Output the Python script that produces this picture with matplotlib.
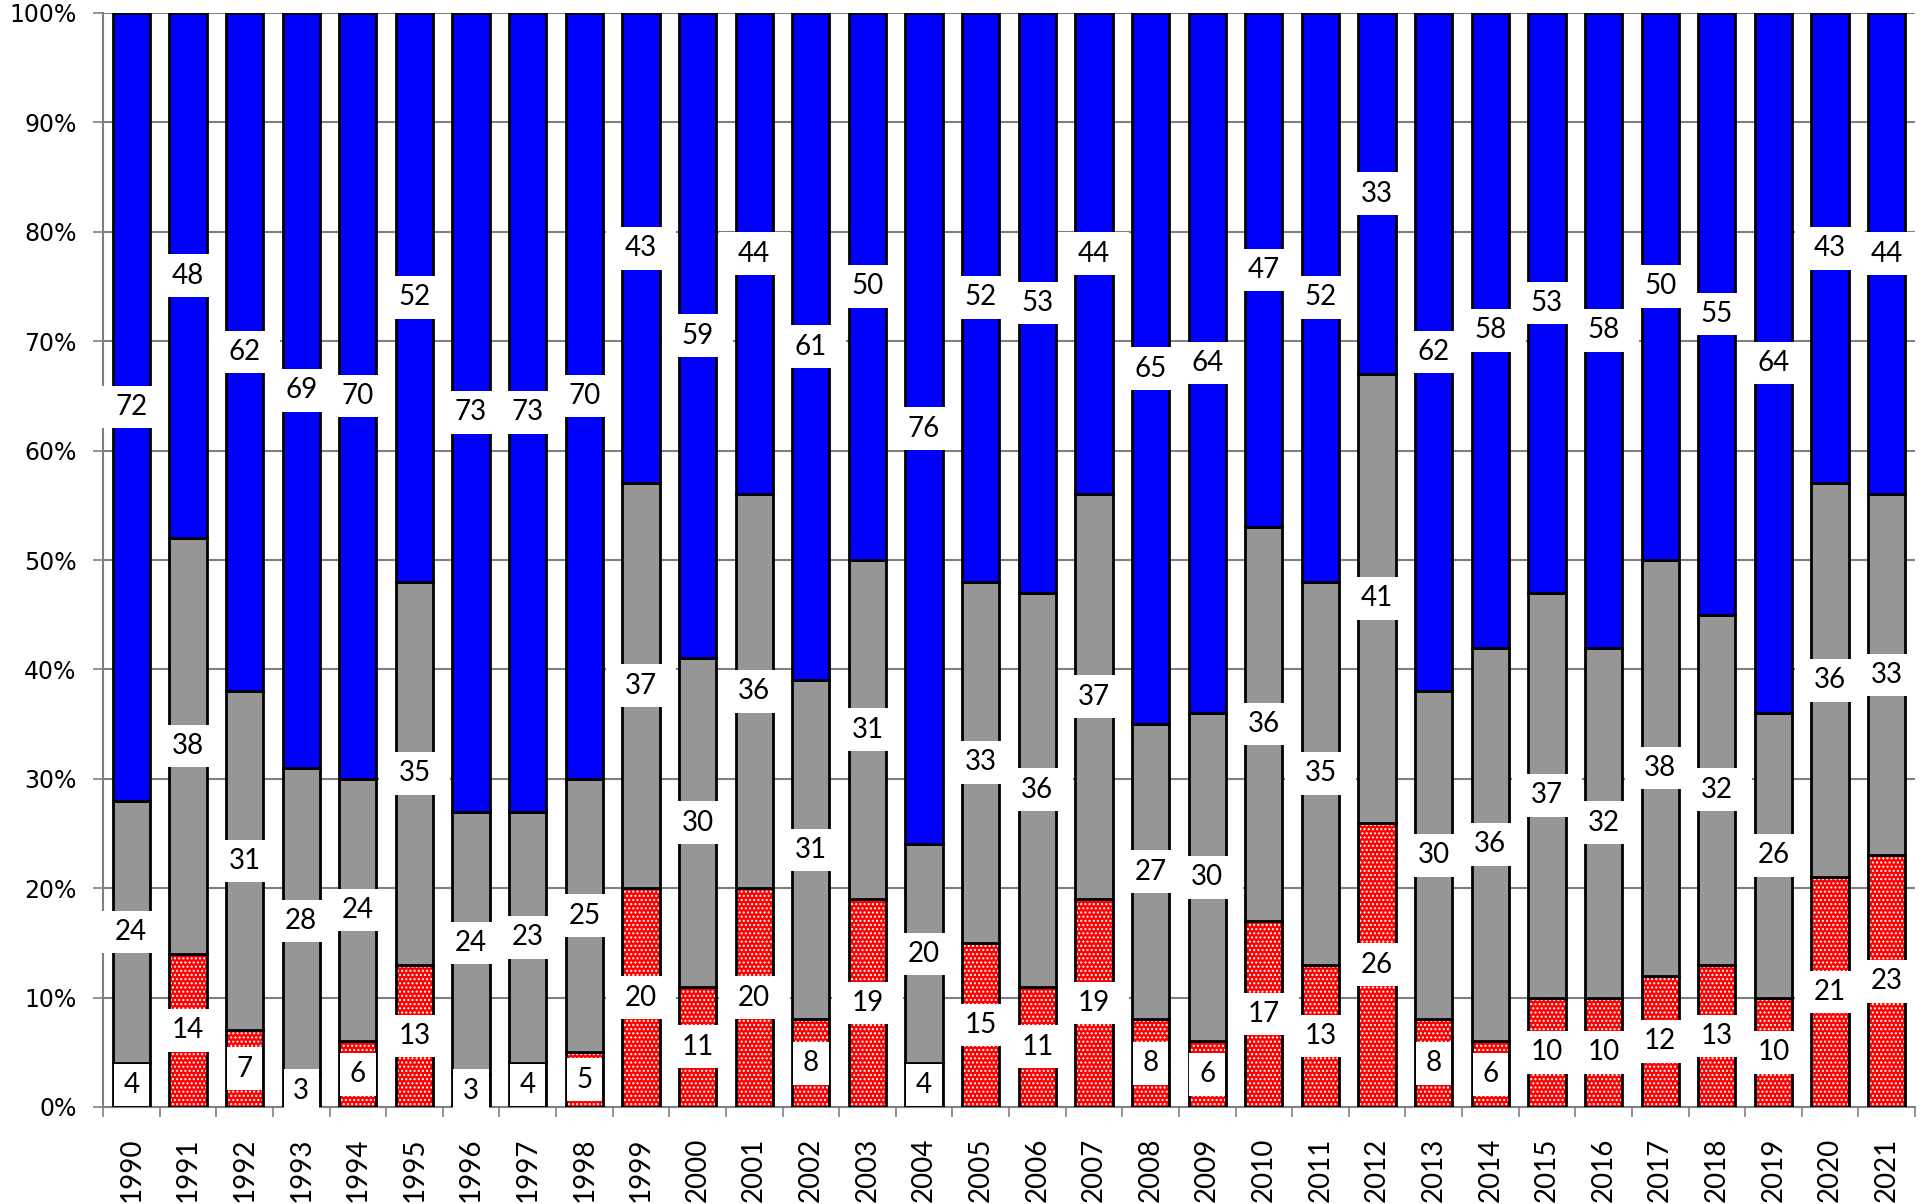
import numpy as np
import matplotlib.pyplot as plt
from matplotlib.path import Path
from matplotlib.ticker import FixedLocator, PercentFormatter

# ── Data (shares in %, bottom → top) ────────────────────────────────────────
years = list(range(1990, 2022))
red_vals = [4, 14, 7, 3, 6, 13, 3, 4, 5, 20, 11, 20, 8, 19, 4, 15,
            11, 19, 8, 6, 17, 13, 26, 8, 6, 10, 10, 12, 13, 10, 21, 23]
grey_vals = [24, 38, 31, 28, 24, 35, 24, 23, 25, 37, 30, 36, 31, 31, 20, 33,
             36, 37, 27, 30, 36, 35, 41, 30, 36, 37, 32, 38, 32, 26, 36, 33]
blue_vals = [72, 48, 62, 69, 70, 52, 73, 73, 70, 43, 59, 44, 61, 50, 76, 52,
             53, 44, 65, 64, 47, 52, 33, 62, 58, 53, 58, 50, 55, 64, 43, 44]

RED = "#FF0000"
GREY = "#969696"
BLUE = "#0000FF"
LABEL_FONT = ["Lato", "DejaVu Sans"]


def wide_box(x0, y0, width, height, mutation_size):
    """White label box, padding grows with text width (Excel-like)."""
    px, py = 0.6 * width, 0.3 * mutation_size
    x0, y0 = x0 - px, y0 - py
    x1, y1 = x0 + width + 2 * px, y0 + height + 2 * py
    return Path([(x0, y0), (x1, y0), (x1, y1), (x0, y1), (x0, y0)], closed=True)


x = np.arange(len(years))
red = np.array(red_vals, dtype=float)
grey = np.array(grey_vals, dtype=float)
blue = np.array(blue_vals, dtype=float)
width = 0.66

fig = plt.figure(figsize=(19.23, 12.04), dpi=100)
ax = fig.add_axes([103 / 1923, 1 - 1107 / 1204, 1812 / 1923, (1107 - 13) / 1204])

# red segment: white dotted pattern, then black outline on top
ax.bar(x, red, width, color=RED, edgecolor="white", hatch="....", linewidth=0, zorder=2)
ax.bar(x, red, width, fill=False, edgecolor="black", linewidth=2, zorder=3)
ax.bar(x, grey, width, bottom=red, color=GREY, edgecolor="black", linewidth=2, zorder=3)
ax.bar(x, blue, width, bottom=red + grey, color=BLUE, edgecolor="black", linewidth=2, zorder=3)

# data labels at segment centres
for bottoms, vals in [(np.zeros_like(red), red), (red, grey), (red + grey, blue)]:
    for xi, b, v in zip(x, bottoms, vals):
        ax.text(xi, b + v / 2, f"{int(v)}", ha="center", va="center",
                fontsize=20, family=LABEL_FONT, color="black", zorder=5,
                bbox=dict(boxstyle=wide_box, facecolor="white", edgecolor="none"))

# axes styling
ax.set_xlim(-0.5, len(years) - 0.5)
ax.set_ylim(0, 100)
ax.set_axisbelow(True)
ax.yaxis.grid(True, color="#808080", linewidth=1.5)
ax.yaxis.set_major_locator(FixedLocator(np.arange(0, 101, 10)))
ax.yaxis.set_major_formatter(PercentFormatter(decimals=0))
ax.tick_params(axis="y", labelsize=17, length=7, width=1.2, color="#808080", pad=12)

ax.set_xticks(x)
ax.set_xticklabels([str(y) for y in years], rotation=90, fontsize=20, family=LABEL_FONT)
ax.set_xticks(np.arange(-0.5, len(years), 1), minor=True)
ax.tick_params(axis="x", which="major", length=0, pad=22)
ax.tick_params(axis="x", which="minor", length=7, width=1.2, color="#808080")

for side in ("top", "right"):
    ax.spines[side].set_visible(False)
for side in ("left", "bottom"):
    ax.spines[side].set_color("#808080")
    ax.spines[side].set_linewidth(1.5)

fig.savefig("out.png", dpi=100)
